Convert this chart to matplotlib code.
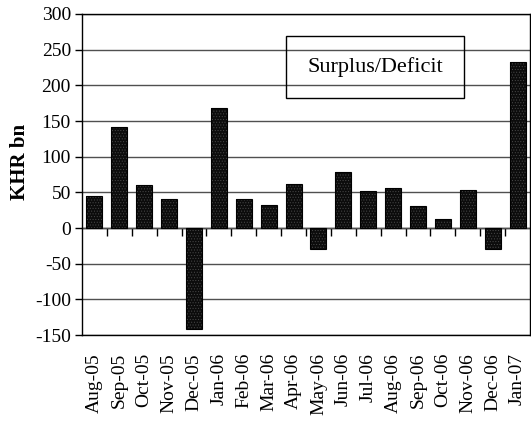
"""Monthly budget surplus/deficit bar chart (KHR bn)."""

import matplotlib

matplotlib.use("Agg")
import matplotlib.pyplot as plt
import numpy as np

plt.rcParams["font.family"] = ["Liberation Serif", "DejaVu Serif"]
plt.rcParams["axes.unicode_minus"] = False
plt.rcParams["hatch.linewidth"] = 0.4

months = [
    "Aug-05", "Sep-05", "Oct-05", "Nov-05", "Dec-05", "Jan-06",
    "Feb-06", "Mar-06", "Apr-06", "May-06", "Jun-06", "Jul-06",
    "Aug-06", "Sep-06", "Oct-06", "Nov-06", "Dec-06", "Jan-07",
]
surplus = [45, 142, 60, 40, -142, 168, 40, 32, 62, -30, 79, 52, 56, 31, 12, 53, -30, 233]
y_ticks = [-150, -100, -50, 0, 50, 100, 150, 200, 250, 300]

W, H = 531, 423
fig = plt.figure(figsize=(W / 100, H / 100), dpi=100)
ax = fig.add_axes([82 / W, 1 - 335 / H, (530 - 82) / W, (335 - 14) / H])

x = np.arange(len(months))
# dotted fill like the original pattern, then a black outline on top
ax.bar(x, surplus, width=0.64, color="#0c0c0c", edgecolor="#4a4a4a",
       hatch="......", linewidth=0, zorder=3)
ax.bar(x, surplus, width=0.64, fill=False, edgecolor="black", linewidth=0.8, zorder=4)

ax.set_xlim(-0.5, len(months) - 0.5)
ax.set_ylim(-150, 300)
ax.set_yticks(y_ticks)
ax.yaxis.grid(True, color="#505050", linewidth=1.0, zorder=0)
ax.tick_params(axis="y", direction="out", length=5, width=1, labelsize=14, pad=3)

ax.set_xticks(x, months, rotation=90)
ax.tick_params(axis="x", length=0, labelsize=14, pad=13)

for side in ["left", "right", "top", "bottom"]:
    ax.spines[side].set_color("black")
    ax.spines[side].set_linewidth(1.0)

# category axis crossing at zero, ticks between bars
zero_frac = (0 - (-150)) / (300 - (-150))
sec = ax.secondary_xaxis(zero_frac)
sec.set_xticks(x[:-1] + 0.5, [""] * (len(months) - 1))
sec.tick_params(direction="out", length=6, width=1, color="black")
sec.spines["bottom"].set_linewidth(1.0)
sec.spines["bottom"].set_color("black")

ax.text(
    (375 - 82) / (530 - 82), 1 - (67 - 14) / (335 - 14), "Surplus/Deficit",
    transform=ax.transAxes, ha="center", va="center", fontsize=16,
    bbox=dict(boxstyle="square,pad=0.95", facecolor="none", edgecolor="black", linewidth=1.0),
    zorder=5,
)

fig.text(20 / W, 1 - 162 / H, "KHR bn", rotation=90, ha="center", va="center",
         fontsize=15, fontweight="bold")

fig.savefig("out.png", dpi=100, facecolor="white")
